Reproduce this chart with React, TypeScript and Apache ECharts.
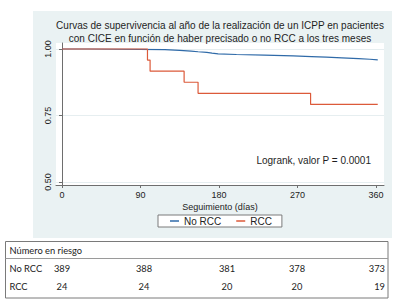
import React, { useEffect, useRef } from "react";
import * as echarts from "echarts";

const titleLines = [
  "Curvas de supervivencia al año de la realización de un ICPP en pacientes",
  "con CICE en función de haber precisado o no RCC a los tres meses",
];
const xTicks = [0, 90, 180, 270, 360];
const yTicks = [0.5, 0.75, 1.0];
const seriesNames = ["No RCC", "RCC"];

const noRccTimes = [0, 30, 118, 135, 148, 156, 166, 172, 179, 200, 232, 265, 286, 303, 321, 340, 353, 362];
const noRccSurv = [1, 0.9974, 0.9949, 0.9923, 0.9897, 0.9871, 0.9846, 0.982, 0.9794, 0.9769, 0.9743, 0.9717, 0.9692, 0.9666, 0.964, 0.9614, 0.9589, 0.9589];

const rccTimes = [0, 98, 101, 140, 156, 285, 362];
const rccSurv = [1, 0.9583, 0.9167, 0.875, 0.8333, 0.7917, 0.7917];

const riskHeader = "Número en riesgo";
const riskNoRcc = [389, 388, 381, 378, 373];
const riskRcc = [24, 24, 20, 20, 19];
const logrankText = "Logrank, valor P = 0.0001";
const xAxisName = "Seguimiento (días)";

const SANS = "'Liberation Sans', Arial, sans-serif";
const TABLE_FONT = "Lato, 'Open Sans', sans-serif";
const BLUE = "#2f6aa8";
const RED = "#dc5a3a";

export default function App() {
  const ref = useRef<HTMLDivElement>(null);
  useEffect(() => {
    document.body.style.margin = "0";
    if (!ref.current) return;
    const chart = echarts.init(ref.current, undefined, { renderer: "svg" });

    const pxPerDay = 314 / 360;
    const xMin = -6 / pxPerDay;
    const xMax = 360 + 8 / pxPerDay;
    const yMax = 1 + 6 / 266;
    const yMin = 0.5 - 3 / 266;

    const colX = [62, 144, 227, 297, 385];
    const colAlign = ["center", "center", "center", "center", "right"];
    const tFont = `9.3px ${TABLE_FONT}`;
    const tableTexts: any[] = [];
    tableTexts.push({
      type: "text", x: 9.5, y: 250,
      style: { text: riskHeader, font: tFont, fill: "#222", textAlign: "left", textVerticalAlign: "middle", align: "left", verticalAlign: "middle" },
    });
    const rows: [string, number[], number][] = [
      [seriesNames[0], riskNoRcc, 268],
      [seriesNames[1], riskRcc, 286],
    ];
    rows.forEach(([label, vals, y]) => {
      tableTexts.push({
        type: "text", x: 9.5, y,
        style: { text: label, font: tFont, fill: "#222", textAlign: "left", textVerticalAlign: "middle", align: "left", verticalAlign: "middle" },
      });
      vals.forEach((v, i) => {
        tableTexts.push({
          type: "text", x: colX[i], y,
          style: { text: String(v), font: tFont, fill: "#222", textAlign: colAlign[i], textVerticalAlign: "middle", align: colAlign[i], verticalAlign: "middle" },
        });
      });
    });

    chart.setOption({
      animation: false,
      backgroundColor: "#ffffff",
      grid: {
        left: 56, top: 43, width: 328, height: 142,
        show: true, backgroundColor: "#ffffff", borderWidth: 0,
        containLabel: false,
      },
      xAxis: {
        type: "value", min: xMin, max: xMax,
        name: xAxisName, nameLocation: "middle", nameGap: 17,
        nameTextStyle: { fontFamily: SANS, fontSize: 9, color: "#222" },
        axisLine: { show: true, lineStyle: { color: "#6e6e6e", width: 1 } },
        axisTick: { show: true, length: 3, customValues: xTicks, lineStyle: { color: "#6e6e6e" } },
        axisLabel: { customValues: xTicks, fontFamily: SANS, fontSize: 9, color: "#222", margin: 5 },
        splitLine: { show: false },
      },
      yAxis: {
        type: "value", min: yMin, max: yMax,
        axisLine: { show: true, lineStyle: { color: "#6e6e6e", width: 1 } },
        axisTick: { show: true, length: 3, customValues: yTicks, lineStyle: { color: "#6e6e6e" } },
        axisLabel: {
          customValues: yTicks, rotate: 90, fontFamily: SANS, fontSize: 9, color: "#222", margin: 4,
          formatter: (v: number) => v.toFixed(2),
        },
        splitLine: { show: true, lineStyle: { color: "#e6eef0", width: 1 } },
      },
      legend: {
        left: 158, top: 215,
        backgroundColor: "#ffffff", borderColor: "#7a7a7a", borderWidth: 1, borderRadius: 0,
        padding: [1, 10, 1, 12], itemGap: 15, itemWidth: 9, itemHeight: 1.5, icon: "rect",
        textStyle: { fontFamily: SANS, fontSize: 10, color: "#222" },
        data: seriesNames,
      },
      series: [
        {
          name: seriesNames[0], type: "line", step: "end", symbol: "none",
          data: noRccTimes.map((t, i) => [t, noRccSurv[i]]),
          lineStyle: { color: BLUE, width: 1.2 }, itemStyle: { color: BLUE }, z: 2,
        },
        {
          name: seriesNames[1], type: "line", step: "end", symbol: "none",
          data: rccTimes.map((t, i) => [t, rccSurv[i]]),
          lineStyle: { color: RED, width: 1.2 }, itemStyle: { color: RED }, z: 3,
        },
      ],
      graphic: [
        {
          type: "rect", z: -10, silent: true,
          shape: { x: 33, y: 11, width: 359, height: 227 },
          style: { fill: "#eaf2f3" },
        },
        {
          type: "text", x: 220, y: 25,
          style: { text: titleLines[0], font: `10px ${SANS}`, fill: "#1e1e1e", textAlign: "center", textVerticalAlign: "middle", align: "center", verticalAlign: "middle" },
        },
        {
          type: "text", x: 220, y: 38,
          style: { text: titleLines[1], font: `10px ${SANS}`, fill: "#1e1e1e", textAlign: "center", textVerticalAlign: "middle", align: "center", verticalAlign: "middle" },
        },
        {
          type: "text", x: 371, y: 160,
          style: { text: logrankText, font: `10px ${SANS}`, fill: "#1e1e1e", textAlign: "right", textVerticalAlign: "middle", align: "right", verticalAlign: "middle" },
        },
        {
          type: "rect", silent: true,
          shape: { x: 5.5, y: 241.5, width: 382.5, height: 56.5 },
          style: { fill: "none", stroke: "#7a7a7a", lineWidth: 1 },
        },
        {
          type: "line", silent: true,
          shape: { x1: 5.5, y1: 258.5, x2: 388, y2: 258.5 },
          style: { stroke: "#9a9a9a", lineWidth: 1 },
        },
        ...tableTexts,
      ],
    });
    return () => chart.dispose();
  }, []);
  return <div ref={ref} style={{ width: 403, height: 303 }} />;
}
